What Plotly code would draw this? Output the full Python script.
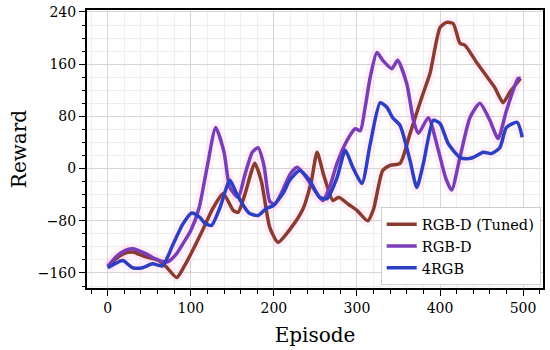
import plotly.graph_objects as go

# episode / reward values
tuned_x = [0, 10, 20, 30, 45, 60, 70, 83, 92, 102, 114, 127, 139, 151, 157, 165, 177, 185, 195, 205,
           220, 235, 245, 252, 260, 271, 278, 290, 300, 313, 320, 331, 340, 352, 364, 378, 388, 400,
           408, 416, 424, 430, 445, 457, 466, 476, 484, 497]
tuned_y = [-150, -138, -130, -128, -135, -140, -150, -167, -150, -126, -95, -60, -38, -64, -67, -40, 8, -20,
           -90, -113, -92, -62, -20, 25, -10, -49, -44, -55, -64, -80, -62, -3, 5, 8, 54, 109, 146, 216,
           224, 222, 192, 189, 161, 140, 124, 101, 117, 138]

rgbd_x = [0, 10, 20, 30, 45, 60, 72, 82, 92, 100, 110, 120, 130, 140, 147, 157, 165, 174, 181, 188, 195,
          201, 210, 220, 228, 237, 247, 259, 268, 276, 288, 298, 304, 310, 316, 324, 331, 342, 349, 360,
          368, 374, 386, 398, 407, 414, 424, 436, 448, 460, 470, 480, 494, 497]
rgbd_y = [-150, -135, -126, -123, -130, -140, -143, -132, -112, -95, -60, 5, 63, 25, -29, -44, -10, 25, 32,
          5, -50, -55, -35, -8, 2, -10, -29, -49, -25, 8, 43, 61, 58, 95, 140, 178, 166, 153, 166, 130,
          74, 54, 78, 28, -15, -33, 17, 78, 100, 74, 46, 89, 138, 138]

rgb4_x = [0, 10, 18, 30, 42, 54, 66, 78, 90, 101, 111, 117, 125, 135, 147, 155, 165, 171, 181, 191, 199,
          211, 219, 231, 243, 255, 264, 276, 286, 295, 306, 316, 328, 336, 343, 352, 364, 372, 380, 392,
          400, 410, 424, 432, 440, 452, 462, 472, 480, 493, 499]
rgb4_y = [-152, -145, -141, -152, -152, -146, -149, -118, -86, -68, -75, -84, -87, -60, -18, -38, -60, -69,
          -72, -61, -57, -38, -18, -3, -18, -44, -46, -14, 28, 2, -23, 38, 101, 94, 78, 66, 12, -29, 8, 74,
          69, 38, 17, 15, 17, 25, 23, 32, 63, 71, 48]

series = [
    ("RGB-D (Tuned)", tuned_x, tuned_y, "#8b3a2e"),
    ("RGB-D", rgbd_x, rgbd_y, "#7a3db8"),
    ("4RGB", rgb4_x, rgb4_y, "#2a3fc4"),
]

fig = go.Figure()

# pale pink halo behind each line
for name, xs, ys, col in series:
    fig.add_trace(go.Scatter(x=xs, y=ys, mode="lines", showlegend=False, hoverinfo="skip",
                             line=dict(color="rgba(255,170,225,0.17)", width=11, shape="spline", smoothing=0.6)))

for name, xs, ys, col in series:
    fig.add_trace(go.Scatter(x=xs, y=ys, mode="lines", name=name,
                             line=dict(color=col, width=3.5, shape="spline", smoothing=0.6)))

axis_common = dict(
    showline=True, linecolor="black", linewidth=2, mirror=True,
    ticks="outside", ticklen=6, tickwidth=1.3, tickcolor="black",
    showgrid=True, gridcolor="#d6d6d6", gridwidth=1, zeroline=False,
    tickfont=dict(size=14, color="black"), automargin=False,
    ticklabeloverflow="allow",
)

fig.update_layout(
    width=550, height=350,
    margin=dict(l=87, r=7, t=10, b=62),
    paper_bgcolor="white", plot_bgcolor="white",
    font=dict(family="DejaVu Serif", color="black"),
    xaxis=dict(axis_common, range=[-25, 524], tick0=0, dtick=100,
               minor=dict(dtick=20, ticks="outside", ticklen=3.5, tickcolor="black",
                          showgrid=True, gridcolor="#eeeeee"),
               title=dict(text="Episode", font=dict(size=20), standoff=13)),
    yaxis=dict(axis_common, range=[-183, 243], tick0=0, dtick=80,
               minor=dict(dtick=20, ticks="outside", ticklen=3.5, tickcolor="black",
                          showgrid=True, gridcolor="#eeeeee"),
               title=dict(text="Reward", font=dict(size=20), standoff=6)),
    legend=dict(x=0.995, y=0.01, xanchor="right", yanchor="bottom",
                bgcolor="white", bordercolor="#cccccc", borderwidth=1,
                font=dict(size=14.5), itemwidth=30, tracegroupgap=0),
    showlegend=True,
)

# drop the default page margin so the figure sits at the window corner
fig.write_html("out.html", config={"displayModeBar": False},
               post_script="document.body.style.margin='0';")
